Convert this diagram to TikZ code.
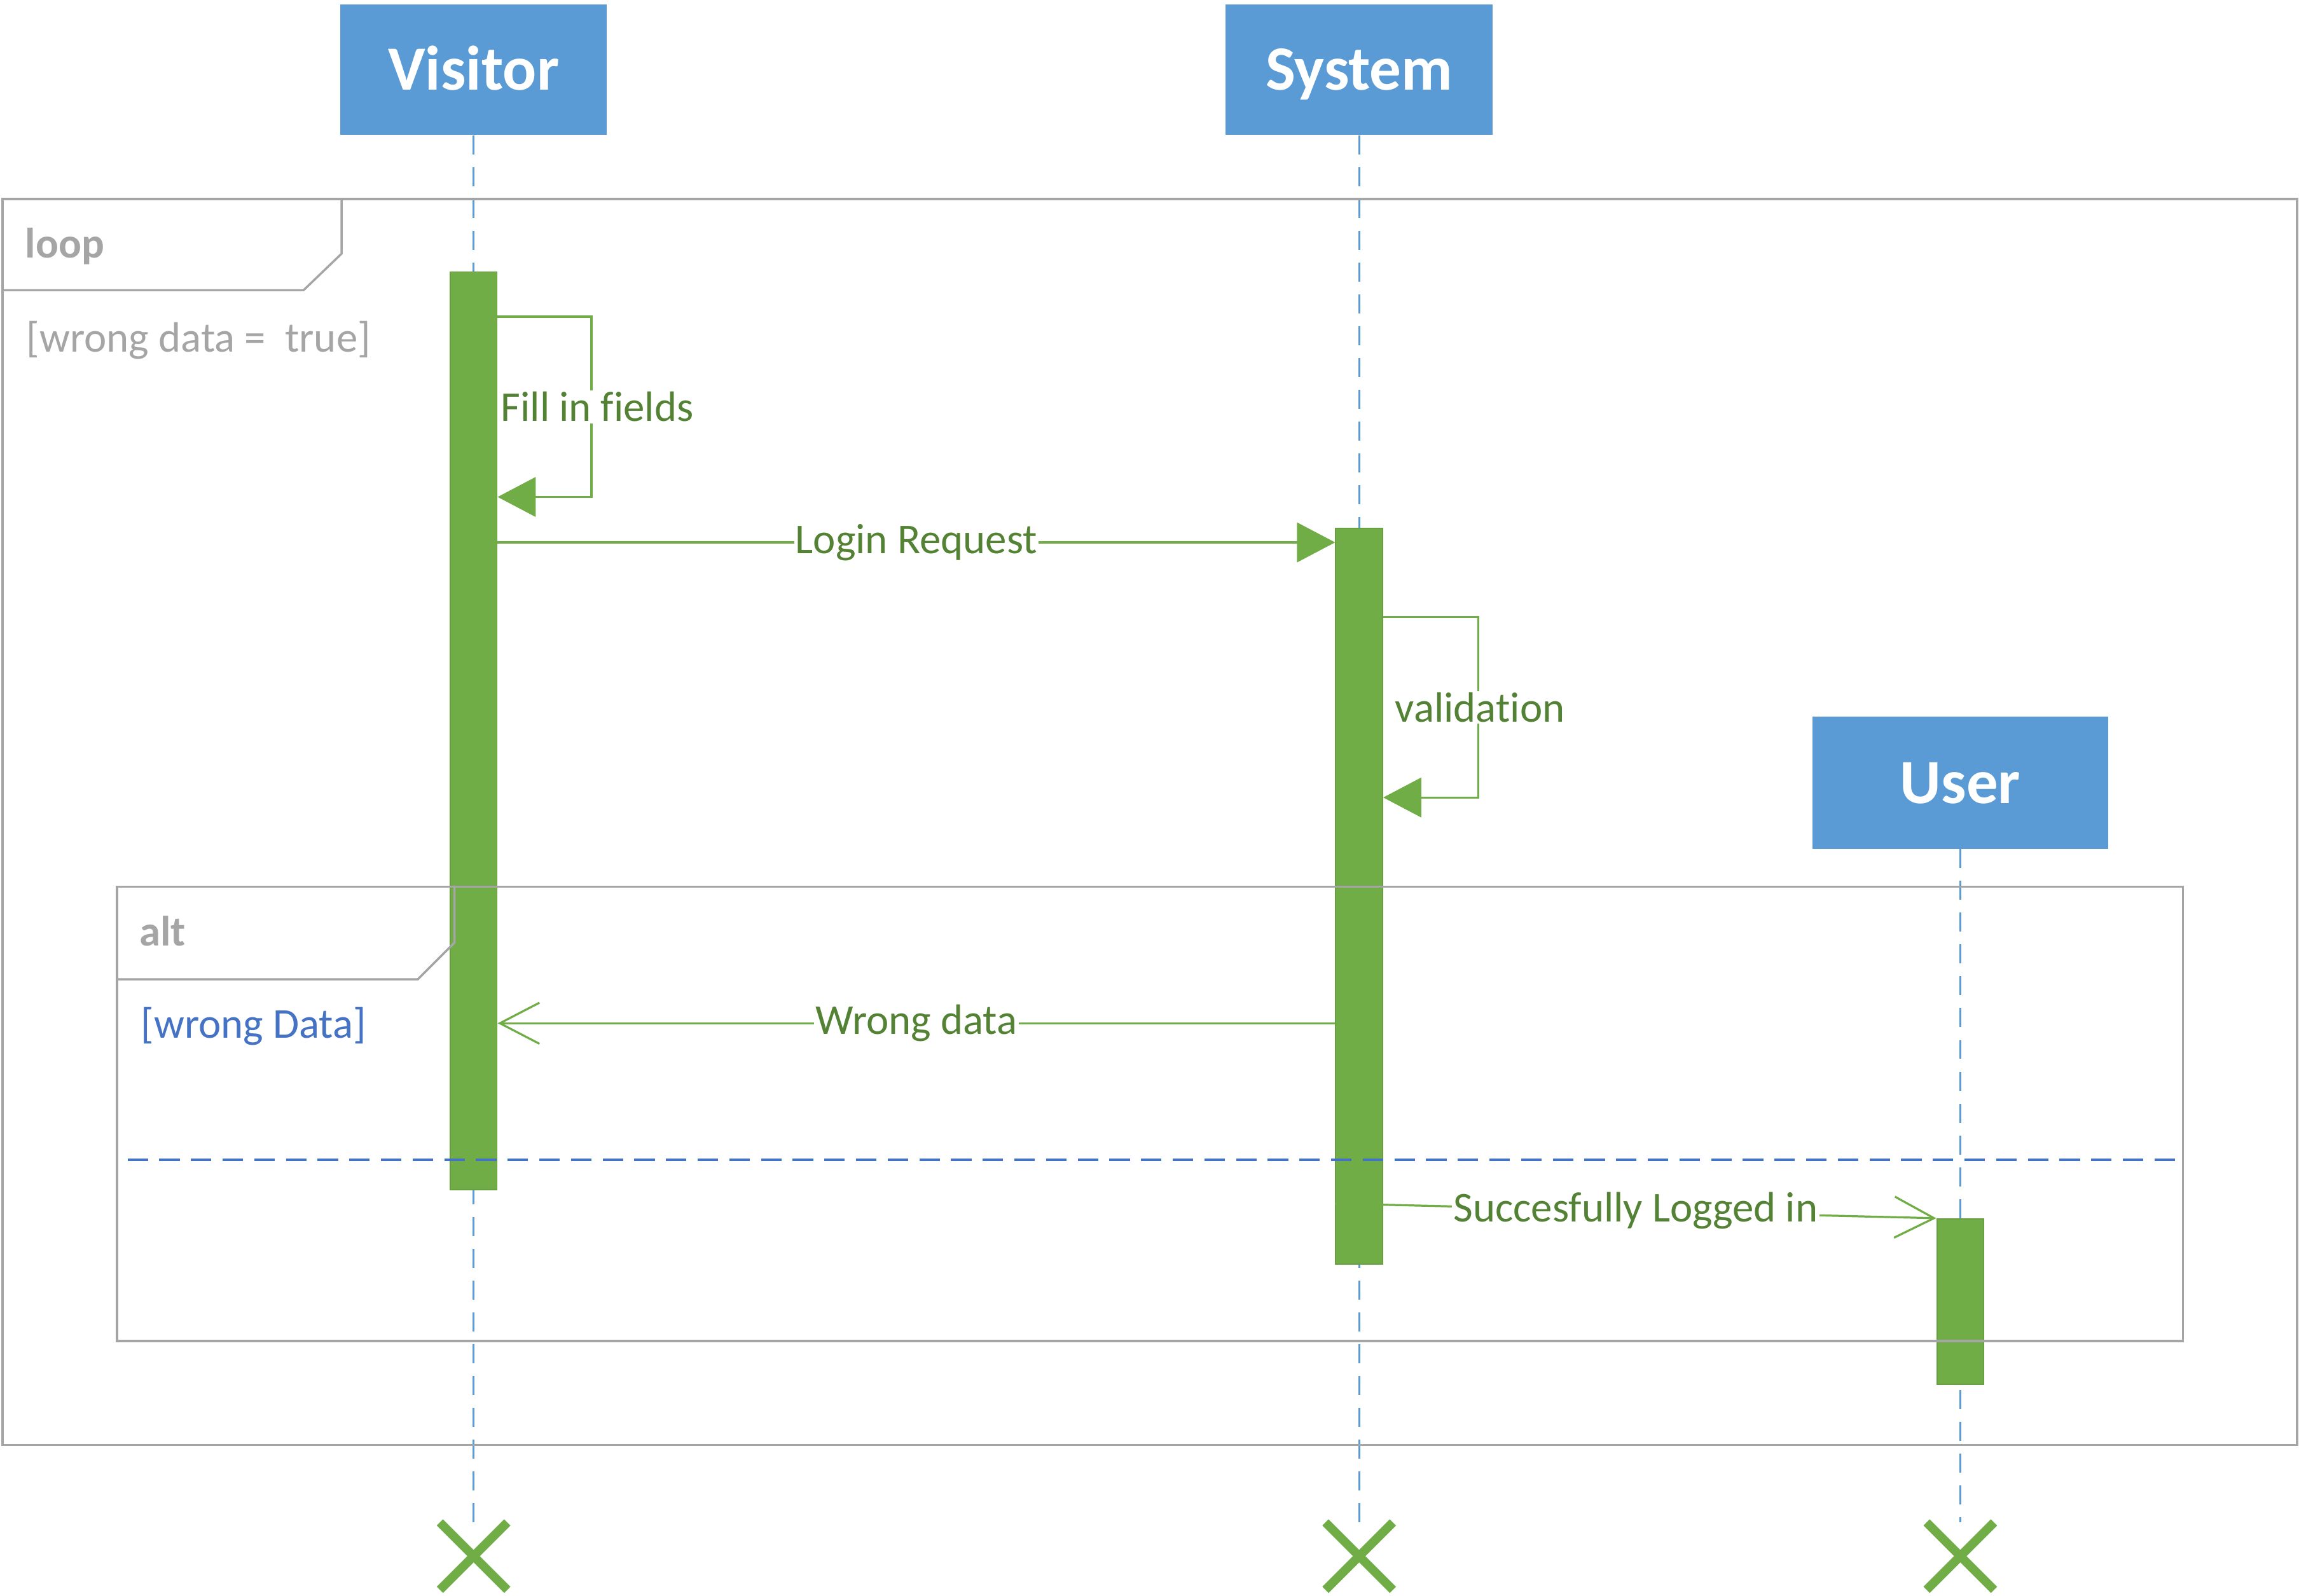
\documentclass[tikz,border=0pt]{standalone}
\usepackage{fontspec}
\setmainfont[Ligatures={NoCommon}]{Carlito}
\usetikzlibrary{arrows.meta,shapes.misc}
\definecolor{headblue}{RGB}{91,155,213}
\definecolor{bargreen}{RGB}{112,173,71}
\definecolor{msggreen}{RGB}{84,130,53}
\definecolor{framegray}{RGB}{165,165,165}
\definecolor{guardblue}{RGB}{68,114,196}
\newcommand{\msgsize}{\fontsize{29}{35}\selectfont}
\tikzset{
  actor/.style={fill=headblue, text=white, font=\bfseries\fontsize{43}{50}\selectfont,
    minimum width=182pt, minimum height=89pt, inner sep=0pt, text height=28pt, text depth=0pt},
  lifeline/.style={headblue, line width=1.3pt, dash pattern=on 13pt off 8.7pt},
  activation/.style={fill=bargreen, draw=bargreen!92!black, line width=0.8pt,
    minimum width=32pt, inner sep=0pt, anchor=north},
  msg/.style={bargreen, line width=1.4pt},
  call/.style={msg, -{Triangle[length=26pt, width=27pt]}},
  reply/.style={msg, -{Straight Barb[length=27pt, width=28pt]}},
  msglabel/.style={fill=white, text=msggreen, font=\msgsize, inner sep=1pt},
  frame/.style={draw=framegray, line width=1.5pt, inner sep=0pt, anchor=north west},
  tab/.style={framegray, line width=1.5pt},
  framelabel/.style={anchor=base west, inner sep=0pt, text=framegray, font=\bfseries\msgsize},
  guard/.style={anchor=base west, inner sep=0pt, text=framegray, font=\msgsize},
  endmark/.style={cross out, draw=bargreen, line width=6pt, minimum size=40pt, inner sep=0pt},
}

\begin{document}
\begin{tikzpicture}[x=1pt, y=-1pt]
        \useasboundingbox (0,0) rectangle (1568,1088.7);
        \node [actor] (visitor) at (323,47.5) {Visitor};
        \node [actor] (system) at (927,47.5) {System};
        \node [actor, minimum width=202pt, minimum height=90pt] (user) at (1337,534) {User};
        \node [endmark] (vx) at (323,1061.5) {};
        \node [endmark] (sx) at (927,1061.5) {};
        \node [endmark] (ux) at (1337,1061.5) {};
        \draw [lifeline] (visitor.south) -- (vx.north);
        \draw [lifeline] (system.south) -- (sx.north);
        \draw [lifeline] (user.south) -- (ux.north);

        \node [activation, minimum height=626pt] (vbar) at (323,185) {};
        \node [activation, minimum height=502pt] (sbar) at (927,360) {};
        \node [activation, minimum height=113pt] (ubar) at (1337,831) {};

        \draw [call] ([yshift=-31pt]vbar.north east) -- ++(64,0) |- node [msglabel, pos=0.25, xshift=4pt] {Fill in fields} ([yshift=-154pt]vbar.north east);
        \draw [call] ([yshift=-185pt]vbar.north east) -- node [msglabel] {Login Request} ([yshift=-10pt]sbar.north west);
        \draw [call] ([yshift=-61pt]sbar.north east) -- ++(65,0) |- node [msglabel, pos=0.25, xshift=1pt] {validation} ([yshift=-184pt]sbar.north east);
        \draw [reply] ([yshift=-338pt]sbar.north west) -- node [msglabel] {Wrong data} ([yshift=-513pt]vbar.north east);
        \draw [reply] ([yshift=-461pt]sbar.north west) -- node [msglabel] {Succesfully Logged in} (ubar.north west);

        \node [frame, minimum width=1565pt, minimum height=850pt] (loopbox) at (1,135) {};
        \draw [tab] ([yshift=-63pt]loopbox.north west) -- ++(206,0) -- ++(26,-25) -- ++(0,-38);
        \node [framelabel] (looplabel) at ([shift={(16,41)}]loopbox.north west) {loop};
        \node [guard] (loopguard) at ([shift={(17,105)}]loopbox.north west) {[wrong data =\ \ true]};

        \node [frame, minimum width=1409pt, minimum height=310pt] (altbox) at (79,604) {};
        \draw [tab] ([yshift=-64pt]altbox.north west) -- ++(206,0) -- ++(25,-25) -- ++(0,-39);
        \node [framelabel] (altlabel) at ([shift={(16,41)}]altbox.north west) {alt};
        \node [guard, text=guardblue] (altguard) at ([shift={(17,104)}]altbox.north west) {[wrong Data]};
        \draw [guardblue, line width=1.7pt, dash pattern=on 14pt off 7.6pt] ([shift={(8,187)}]altbox.north west) -- ([yshift=-187pt]altbox.north east);
      \end{tikzpicture}
\end{document}
